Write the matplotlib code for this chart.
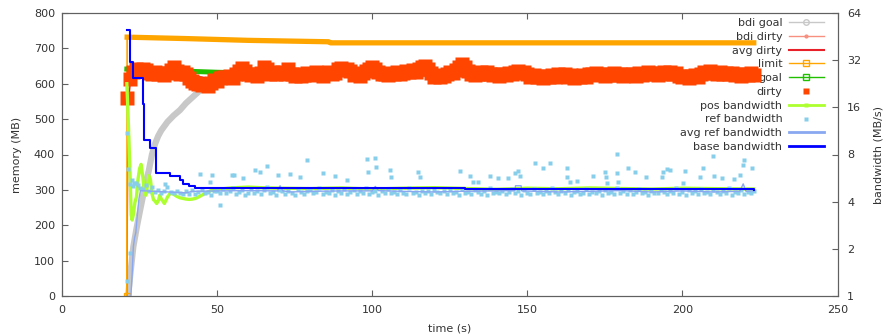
import numpy as np
from matplotlib import pyplot as plt
from matplotlib.lines import Line2D
from matplotlib.ticker import NullLocator

# ---- memory series (MB) ----
dirty_t = np.arange(21, 224)
dirty_mb = [
    560, 612, 632, 640, 636, 642, 637, 630, 628, 632,
    626, 630, 625, 629, 638, 646, 635, 628, 632, 627,
    615, 608, 603, 598, 596, 600, 594, 603, 610, 606,
    615, 620, 618, 622, 617, 628, 635, 645, 636, 628,
    624, 627, 622, 630, 646, 640, 628, 632, 626, 630,
    634, 628, 642, 626, 622, 628, 621, 625, 630, 624,
    628, 632, 627, 622, 629, 634, 626, 631, 640, 644,
    638, 642, 635, 624, 628, 622, 630, 636, 642, 646,
    640, 634, 626, 628, 624, 630, 626, 632, 628, 631,
    636, 632, 638, 634, 640, 646, 650, 642, 630, 620,
    624, 618, 622, 628, 634, 630, 638, 646, 655, 648,
    636, 628, 624, 628, 632, 626, 634, 628, 624, 628,
    622, 627, 625, 630, 626, 632, 636, 630, 634, 628,
    620, 624, 618, 622, 616, 621, 618, 624, 620, 626,
    622, 626, 619, 624, 616, 621, 618, 623, 620, 628,
    626, 630, 624, 628, 622, 627, 624, 629, 623, 626,
    621, 628, 623, 627, 622, 630, 625, 628, 632, 626,
    629, 624, 630, 634, 628, 632, 627, 630, 622, 618,
    622, 616, 621, 624, 619, 628, 634, 630, 636, 631,
    628, 633, 627, 631, 626, 630, 624, 628, 622, 627,
    623, 629, 625,
]
# single device, so bdi dirty is the global dirty count
bdi_dirty_t = dirty_t
bdi_dirty_mb = dirty_mb

bdi_goal_t = [21.3, 22, 23, 24, 25, 26, 27, 28, 29, 30, 31, 32, 34, 36, 38,
              40, 42, 44, 46, 48, 50, 55, 60, 70, 90, 223]
bdi_goal_mb = [0, 60, 140, 190, 235, 278, 320, 355, 400, 430, 452, 468, 492,
               510, 525, 545, 561, 577, 589, 598, 605, 615, 620, 624, 626, 626]

avg_dirty_t = [20.9, 21.3, 22, 25, 30, 40, 50, 60, 100, 150, 223]
avg_dirty_mb = [0, 540, 600, 628, 630, 625, 612, 622, 630, 627, 626]

limit_t = [20.9, 21.0, 40, 60, 86, 86.5, 223]
limit_mb = [0, 731, 727, 722, 718, 715, 715]

goal_t = [20.9, 30, 40, 50, 60, 80, 100, 150, 223]
goal_mb = [641, 638, 635, 632, 630, 629, 628, 627, 627]

# ---- bandwidth series (MB/s) ----
pos_bw_t = [20.9, 21.4, 21.9, 22.3, 22.6, 23.0, 23.5, 24.0, 24.5, 25.0, 25.5,
            26.0, 26.5, 27.0, 27.5, 28.0, 28.5, 29.0, 29.5, 30.0, 30.5, 31.0,
            31.5, 32, 33, 34, 35, 36, 37, 38, 39, 40, 41, 42, 43, 44, 46, 48,
            50, 55, 60, 65, 70, 80, 90, 100, 110, 120, 130, 140, 150, 160,
            170, 180, 190, 200, 210, 223]
pos_bw = [22.6, 12.6, 6.33, 3.31, 3.06, 3.31, 3.96, 4.29, 5.56, 6.50, 6.92,
          5.86, 4.76, 4.40, 5.01, 5.86, 5.56, 4.51, 4.12, 4.04, 3.90, 4.04,
          4.40, 4.17, 3.90, 4.29, 4.56, 4.47, 4.33, 4.24, 4.20, 4.16, 4.14,
          4.16, 4.20, 4.29, 4.51, 4.71, 4.80, 4.91, 4.96, 4.91, 4.88, 4.85,
          4.90, 4.82, 4.88, 4.92, 4.86, 4.80, 4.88, 4.84, 4.90, 4.86, 4.82,
          4.88, 4.85, 4.82]

ref_t = np.arange(22, 224)
ref_bw = [
    5.20, 5.05, 5.30, 4.90, 4.85, 5.10, 4.70, 4.95, 4.62, 4.78,
    4.55, 4.70, 4.98, 4.60, 4.52, 4.68, 4.58, 4.45, 4.66, 4.50,
    4.72, 4.48, 4.60, 4.75, 4.55, 4.62, 4.42, 4.68, 4.70, 4.58,
    4.80, 4.52, 4.65, 4.90, 4.48, 4.62, 4.74, 4.40, 4.58, 4.85,
    4.55, 4.68, 4.46, 4.72, 4.95, 4.52, 4.60, 4.44, 4.78, 4.66,
    4.50, 4.70, 4.58, 4.42, 4.82, 4.62, 4.48, 4.66, 4.74, 4.52,
    4.60, 4.88, 4.45, 4.64, 4.56, 4.72, 4.40, 4.68, 4.58, 4.80,
    4.50, 4.62, 4.75, 4.46, 4.66, 4.54, 4.92, 4.48, 4.60, 4.70,
    4.44, 4.68, 4.57, 4.80, 4.52, 4.64, 4.46, 4.74, 4.58, 4.50,
    4.86, 4.56, 4.62, 4.42, 4.70, 4.54, 4.66, 4.48, 4.78, 4.60,
    4.52, 4.68, 4.45, 4.72, 4.58, 4.64, 4.40, 4.82, 4.55, 4.62,
    4.48, 4.76, 4.60, 4.50, 4.68, 4.44, 4.90, 4.56, 4.64, 4.52,
    4.70, 4.46, 4.62, 4.84, 4.54, 4.66, 4.42, 4.72, 4.58, 4.50,
    4.80, 4.55, 4.64, 4.46, 4.70, 4.52, 4.88, 4.60, 4.48, 4.66,
    4.56, 4.74, 4.44, 4.62, 4.70, 4.50, 4.58, 4.82, 4.46, 4.64,
    4.54, 4.68, 4.40, 4.76, 4.58, 4.62, 4.48, 4.92, 4.56, 4.66,
    4.50, 4.72, 4.46, 4.60, 4.84, 4.54, 4.64, 4.42, 4.70, 4.58,
    4.52, 4.78, 4.60, 4.46, 4.68, 4.56, 4.86, 4.50, 4.62, 4.44,
    4.72, 4.58, 4.66, 4.48, 4.80, 4.54, 4.62, 4.46, 4.74, 4.60,
    4.50, 4.68, 4.56, 4.88, 4.44, 4.64, 4.58, 4.72, 4.48, 4.62,
    4.56, 4.70,
]
# startup samples and the spikier readings
ref_extra_t = [20.9, 21.1, 21.4, 21.8, 22.5, 23.3, 24.6, 33.2, 44.5, 47.7,
               48.3, 50.9, 54.7, 55.3, 58.5, 62.2, 63.9, 66.0, 69.7, 73.5,
               76.7, 78.9, 84.2, 88.0, 91.8, 98.2, 98.8, 101.0, 101.3, 105.7,
               106.2, 114.8, 115.4, 128.3, 131.5, 132.6, 134.2, 138.0, 140.7,
               143.9, 146.0, 147.1, 147.7, 152.5, 155.2, 157.3, 162.7, 162.9,
               163.8, 165.9, 171.1, 175.1, 175.4, 175.6, 178.8, 179.0, 179.4,
               182.6, 184.8, 188.3, 193.4, 193.9, 195.0, 196.0, 200.3, 200.9,
               205.7, 206.6, 210.0, 210.2, 212.7, 216.5, 218.6, 219.5, 219.7,
               222.4]
ref_extra_bw = [1.25, 10.9, 6.50, 1.89, 5.50, 5.28, 5.14, 5.19, 6.01, 5.35,
                5.91, 3.80, 5.91, 5.91, 5.64, 6.36, 6.20, 6.74, 5.91, 6.01,
                5.77, 7.40, 6.10, 5.82, 5.50, 7.44, 6.20, 7.56, 6.66, 6.36,
                5.77, 6.20, 5.77, 6.30, 5.82, 5.35, 5.35, 5.82, 5.64,
                5.64, 6.07, 6.30, 5.82, 7.10, 6.52, 7.03, 6.59, 5.77,
                5.35, 5.44, 5.82, 6.20, 5.74, 5.25, 8.05, 6.07, 5.35,
                6.52, 6.20, 5.74, 5.74, 6.20, 6.43, 6.36, 5.25, 6.30,
                5.74, 6.52, 7.85, 5.82, 5.64, 5.56, 5.91, 6.84, 7.36,
                6.52]

avg_ref_t = [22.2, 22.6, 23.0, 23.4, 23.8, 24.3, 24.8, 25.3, 30, 35, 40, 42,
             50, 60, 69.5, 70.3, 71.2, 74, 80, 90, 100, 101, 102, 110, 120,
             128, 140, 146, 146.2, 148, 148.2, 160, 170, 180, 190, 200, 210,
             218.5, 219.6, 220.5, 223]
avg_ref_bw = [1.0, 1.37, 2.07, 2.36, 2.55, 3.31, 4.17, 4.71, 4.66, 4.61, 4.56,
              4.66, 4.69, 4.71, 4.69, 5.06, 4.69, 4.62, 4.66, 4.69, 4.69, 5.01,
              4.71, 4.66, 4.62, 4.66, 4.69, 4.71, 5.06, 5.06, 4.69, 4.62, 4.66,
              4.71, 4.62, 4.69, 4.62, 4.66, 5.20, 4.66, 4.69]

base_t = [21.0, 21.9, 22.8, 26.2, 26.5, 28.4, 30.2, 34.8, 38.2, 39.0, 40.8,
          42.8, 60, 75, 100, 130, 150, 180, 200, 223]
base_bw = [49.9, 30.9, 24.5, 16.9, 9.9, 8.78, 6.13, 5.80, 5.50, 5.22, 5.01,
           4.88, 4.88, 4.86, 4.88, 4.85, 4.83, 4.81, 4.79, 4.76]

C_BDI_GOAL = '#c8c8c8'
C_BDI_DIRTY = '#f89080'
C_AVG_DIRTY = '#e8202a'
C_LIMIT = '#ffa500'
C_GOAL = '#20c000'
C_DIRTY = '#ff4500'
C_POS = '#adff2f'
C_REF = '#87ceeb'
C_AVG_REF = '#8aa8f0'
C_BASE = '#0000ff'
TXT = '#333333'
EDGE = '#606060'

plt.rcParams['font.family'] = 'DejaVu Sans'
plt.rcParams['font.size'] = 8

fig, ax = plt.subplots(figsize=(8.86, 3.35), dpi=100)
fig.subplots_adjust(left=62 / 886, right=837.5 / 886, bottom=38.7 / 335, top=1 - 12.7 / 335)
ax2 = ax.twinx()

ax.plot(bdi_goal_t, bdi_goal_mb, color=C_BDI_GOAL, lw=4.5, solid_capstyle='round', zorder=2)
ax.plot(bdi_dirty_t, bdi_dirty_mb, color=C_BDI_DIRTY, lw=1, zorder=2)
ax.plot(avg_dirty_t, avg_dirty_mb, color=C_AVG_DIRTY, lw=1, zorder=2)
ax.plot(limit_t, limit_mb, color=C_LIMIT, lw=1.2, zorder=2)
ax.plot(limit_t[1:], limit_mb[1:], color=C_LIMIT, lw=3.8, zorder=2)
ax.plot(limit_t[:1], limit_mb[:1], 's', color=C_LIMIT, ms=4, mfc='none', zorder=2)
ax.plot(goal_t, goal_mb, color=C_GOAL, lw=3.6, zorder=2)
ax.plot(dirty_t, dirty_mb, 's', color=C_DIRTY, ms=9.5, mec='none', zorder=2)

ax2.plot(pos_bw_t, pos_bw, color=C_POS, lw=2.4, zorder=2)
ax2.plot(ref_t, ref_bw, 's', color=C_REF, ms=2.8, mec='none', zorder=3)
ax2.plot(ref_extra_t, ref_extra_bw, 's', color=C_REF, ms=2.8, mec='none', zorder=3)
ax2.plot(avg_ref_t, avg_ref_bw, color=C_AVG_REF, lw=1, zorder=4)
ax2.plot(base_t, base_bw, color=C_BASE, lw=1.5, drawstyle='steps-post', zorder=5)

ax.set_xlim(0, 250)
ax.set_ylim(0, 800)
ax.set_xticks(range(0, 251, 50))
ax.set_yticks(range(0, 801, 100))
ax2.set_yscale('log', base=2)
ax2.set_ylim(1, 64)
ax2.set_yticks([1, 2, 4, 8, 16, 32, 64])
ax2.set_yticklabels(['1', '2', '4', '8', '16', '32', '64'])
ax2.yaxis.set_minor_locator(NullLocator())

ax.tick_params(axis='x', direction='in', length=4, top=True, pad=6, colors=EDGE, labelcolor=TXT)
ax.tick_params(axis='y', direction='in', length=4, pad=5, colors=EDGE, labelcolor=TXT)
ax2.tick_params(axis='y', direction='in', length=4, pad=7, colors=EDGE, labelcolor=TXT)
for a in (ax, ax2):
    for s in a.spines.values():
        s.set_color(EDGE)
        s.set_linewidth(0.8)

ax.set_xlabel('time (s)', color=TXT)
ax.set_ylabel('memory (MB)', color=TXT)
ax2.set_ylabel('bandwidth (MB/s)', color=TXT)
ax.xaxis.set_label_coords(0.5, -0.095)
ax.yaxis.set_label_coords(-0.052, 0.5)
ax2.yaxis.set_label_coords(1.047, 0.5)

handles = [
    Line2D([], [], color=C_BDI_GOAL, lw=1, marker='o', ms=4, mfc='none'),
    Line2D([], [], color=C_BDI_DIRTY, lw=1, marker='o', ms=2),
    Line2D([], [], color=C_AVG_DIRTY, lw=1.5),
    Line2D([], [], color=C_LIMIT, lw=1, marker='s', ms=4, mfc='none'),
    Line2D([], [], color=C_GOAL, lw=1, marker='s', ms=4, mfc='none'),
    Line2D([], [], color=C_DIRTY, ls='none', marker='s', ms=5, mec='none'),
    Line2D([], [], color=C_POS, lw=2, marker='s', ms=3, mec='none'),
    Line2D([], [], color=C_REF, ls='none', marker='s', ms=2.8, mec='none'),
    Line2D([], [], color=C_AVG_REF, lw=2),
    Line2D([], [], color=C_BASE, lw=2),
]
labels = ['bdi goal', 'bdi dirty', 'avg dirty', 'limit', 'goal', 'dirty',
          'pos bandwidth', 'ref bandwidth', 'avg ref bandwidth', 'base bandwidth']
leg = ax.legend(handles, labels, loc='upper right', bbox_to_anchor=(824 / 886, 1 - 18 / 335),
                bbox_transform=fig.transFigure, frameon=False, markerfirst=False,
                handlelength=3.15, handletextpad=0.6, labelspacing=0.34,
                borderpad=0, borderaxespad=0, fontsize=8)
for t in leg.get_texts():
    t.set_color(TXT)
leg.set_zorder(1)

plt.savefig('out.png', dpi=100)
